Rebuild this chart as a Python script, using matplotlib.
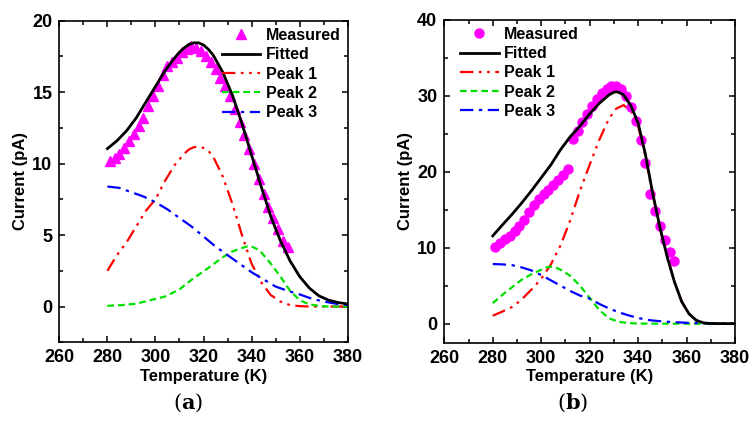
import numpy as np
import matplotlib
matplotlib.use("Agg")
import matplotlib.pyplot as plt
from matplotlib.ticker import MultipleLocator

plt.rcParams['font.family'] = ['Liberation Sans', 'DejaVu Sans']
plt.rcParams['font.weight'] = 'bold'
plt.rcParams['mathtext.fontset'] = 'dejavuserif'

# ---- panel (a) ----
a_meas_T = [281, 283, 285, 287, 289, 291, 293, 295, 297, 299, 301, 303, 305, 307,
            309, 311, 313, 315, 317, 319, 321, 323, 325, 327, 329, 331, 333, 335,
            337, 339, 341, 343, 345, 347, 349, 351, 353, 355]
a_meas_I = [10.2, 10.4, 10.7, 11.1, 11.6, 12.1, 12.6, 13.2, 14.0, 14.7, 15.4, 16.2,
            16.8, 17.1, 17.4, 17.8, 18.0, 18.2, 18.1, 17.9, 17.5, 17.1, 16.6, 16.0,
            15.4, 14.7, 13.8, 12.9, 12.0, 11.0, 10.0, 8.9, 7.9, 7.0, 6.2, 5.4, 4.6, 4.2]

a_fit_T = [280, 284, 288, 292, 296, 300, 304, 308, 310, 312, 314, 316, 318, 320,
           322, 324, 328, 332, 336, 340, 344, 348, 352, 356, 360, 364, 368, 372,
           376, 380]
a_fit_I = [11.05, 11.6, 12.3, 13.2, 14.3, 15.4, 16.5, 17.4, 17.8, 18.1, 18.35, 18.45,
           18.45, 18.3, 18.0, 17.6, 16.4, 14.8, 12.8, 10.6, 8.4, 6.3, 4.6, 3.2, 2.1,
           1.3, 0.75, 0.45, 0.28, 0.18]

a_p1_T = [280, 284, 288, 292, 296, 300, 304, 308, 312, 314, 316, 318, 320, 322,
          324, 328, 332, 336, 340, 344, 348, 352, 356, 360, 364, 370, 380]
a_p1_I = [2.5, 3.6, 4.5, 5.6, 6.7, 7.5, 8.8, 9.9, 10.7, 11.0, 11.15, 11.2, 11.1,
          10.9, 10.5, 9.1, 7.2, 5.0, 3.0, 1.7, 0.8, 0.35, 0.1, 0.03, 0.0, 0.0, 0.0]

a_p2_T = [280, 286, 292, 298, 304, 310, 316, 322, 328, 332, 336, 338, 340, 342,
          344, 348, 352, 356, 360, 364, 368, 372, 380]
a_p2_I = [0.05, 0.1, 0.2, 0.45, 0.7, 1.2, 2.0, 2.7, 3.45, 3.85, 4.1, 4.2, 4.2, 4.05,
          3.8, 3.0, 2.1, 1.1, 0.45, 0.15, 0.05, 0.0, 0.0]

a_p3_T = [280, 285, 290, 295, 300, 305, 310, 315, 320, 325, 330, 335, 340, 345,
          350, 355, 360, 365, 370, 375, 380]
a_p3_I = [8.4, 8.3, 8.0, 7.7, 7.3, 6.8, 6.2, 5.6, 4.9, 4.2, 3.6, 3.0, 2.4, 1.9,
          1.4, 1.1, 0.85, 0.55, 0.35, 0.2, 0.1]

# ---- panel (b) ----
b_meas_T = [281, 283, 285, 287, 289, 291, 293, 295, 297, 299, 301, 303, 305, 307,
            309, 311, 313, 315, 317, 319, 321, 323, 325, 327, 329, 331, 333, 335,
            337, 339, 341, 343, 345, 347, 349, 351, 353, 355]
b_meas_I = [10.1, 10.6, 11.1, 11.6, 12.2, 12.8, 13.6, 14.7, 15.6, 16.4, 17.0, 17.6,
            18.3, 18.9, 19.6, 20.4, 24.3, 25.3, 26.5, 27.6, 28.6, 29.5, 30.3, 30.9,
            31.25, 31.25, 30.9, 30.0, 28.5, 26.65, 24.2, 21.1, 17.0, 14.8, 12.8,
            11.0, 9.4, 8.3]

b_fit_T = [280, 284, 288, 292, 296, 300, 304, 308, 312, 316, 320, 324, 328, 330,
           331, 332, 334, 337, 340, 343, 346, 349, 352, 355, 358, 361, 364, 367,
           370, 380]
b_fit_I = [11.55, 13.0, 14.4, 15.9, 17.5, 19.2, 20.9, 22.9, 24.6, 26.0, 27.6, 29.0,
           30.1, 30.45, 30.5, 30.45, 30.1, 28.7, 26.4, 22.3, 17.2, 12.7, 8.8, 5.5,
           2.9, 1.3, 0.45, 0.1, 0.02, 0.0]

b_p1_T = [280, 284, 288, 292, 296, 300, 304, 308, 312, 316, 320, 324, 328, 331,
          334, 337, 340, 343, 346, 349, 352, 355, 358, 361, 364, 367, 370, 380]
b_p1_I = [1.05, 1.6, 2.2, 3.2, 4.5, 5.9, 7.8, 10.3, 13.6, 17.5, 20.9, 24.2, 27.0,
          28.3, 28.75, 28.0, 26.0, 22.0, 17.0, 12.6, 8.8, 5.5, 2.9, 1.3, 0.45, 0.1,
          0.02, 0.0]

b_p2_T = [280, 284, 288, 292, 296, 300, 302, 304, 306, 308, 312, 316, 320, 324,
          328, 332, 336, 340, 350, 380]
b_p2_I = [2.7, 3.8, 4.8, 5.8, 6.5, 7.1, 7.4, 7.5, 7.4, 7.1, 6.3, 5.0, 3.4, 1.8,
          0.7, 0.25, 0.08, 0.02, 0.0, 0.0]

b_p3_T = [280, 284, 288, 292, 296, 300, 304, 308, 312, 316, 320, 324, 328, 332,
          336, 340, 345, 350, 355, 360, 365, 370, 380]
b_p3_I = [7.85, 7.8, 7.7, 7.4, 7.0, 6.4, 5.7, 5.0, 4.3, 3.7, 3.3, 2.6, 2.0, 1.5,
          1.1, 0.75, 0.45, 0.3, 0.2, 0.12, 0.07, 0.04, 0.01]

red_ls = (0, (6, 2.5, 1.2, 2.5, 1.2, 2.5))
green_ls = (0, (3, 1.8))
blue_ls = (0, (6, 2.5, 1.5, 2.5))

fig = plt.figure(figsize=(7.5, 4.21), dpi=100)


def draw_panel(rect, mT, mI, marker, msize, fT, fI, p1T, p1I, p2T, p2I, p3T, p3I,
               ylim, ymaj, legend_loc, legend_anchor):
    ax = fig.add_axes(rect)
    ax.plot(mT, mI, linestyle='none', marker=marker, color='#ff00ff',
            markersize=msize, label='Measured', zorder=3)
    ax.plot(fT, fI, color='black', linewidth=2.0, label='Fitted', zorder=4)
    ax.plot(p1T, p1I, color='#ff0000', linewidth=1.6, linestyle=red_ls, label='Peak 1')
    ax.plot(p2T, p2I, color='#00e000', linewidth=1.6, linestyle=green_ls, label='Peak 2')
    ax.plot(p3T, p3I, color='#0000ff', linewidth=1.6, linestyle=blue_ls, label='Peak 3')
    ax.set_xlim(260, 380)
    ax.set_ylim(*ylim)
    ax.xaxis.set_major_locator(MultipleLocator(20))
    ax.xaxis.set_minor_locator(MultipleLocator(10))
    ax.yaxis.set_major_locator(MultipleLocator(ymaj))
    ax.yaxis.set_minor_locator(MultipleLocator(ymaj / 2))
    ax.tick_params(which='both', direction='in', top=True, right=True,
                   labelsize=13, width=1.1)
    ax.tick_params(which='major', length=4.5, pad=5)
    ax.tick_params(which='minor', length=3)
    for s in ax.spines.values():
        s.set_linewidth(1.2)
    ax.set_xlabel('Temperature (K)', fontsize=12, fontweight='bold', labelpad=2)
    ax.set_ylabel('Current (pA)', fontsize=12, fontweight='bold', labelpad=3)
    ax.legend(loc=legend_loc, bbox_to_anchor=legend_anchor, frameon=False,
              fontsize=11.5, handlelength=2.4, handletextpad=0.35,
              labelspacing=0.27, borderaxespad=0.05)
    return ax


ax1 = draw_panel([0.0791, 0.187, 0.3845, 0.7638], a_meas_T, a_meas_I, '^', 7.5,
                 a_fit_T, a_fit_I, a_p1_T, a_p1_I, a_p2_T, a_p2_I, a_p3_T, a_p3_I,
                 (-2.5, 20), 5, 'upper right', (1.0, 1.0))
ax2 = draw_panel([0.5924, 0.186, 0.3876, 0.7674], b_meas_T, b_meas_I, 'o', 6.5,
                 b_fit_T, b_fit_I, b_p1_T, b_p1_I, b_p2_T, b_p2_I, b_p3_T, b_p3_I,
                 (-2.5, 40), 10, 'upper left', (0.03, 1.0))

fig.text(0.251, 0.03, r'($\mathbf{a}$)', fontsize=15, ha='center',
         family='DejaVu Serif', fontweight='normal')
fig.text(0.764, 0.03, r'($\mathbf{b}$)', fontsize=15, ha='center',
         family='DejaVu Serif', fontweight='normal')

fig.savefig('out.png', dpi=100)
